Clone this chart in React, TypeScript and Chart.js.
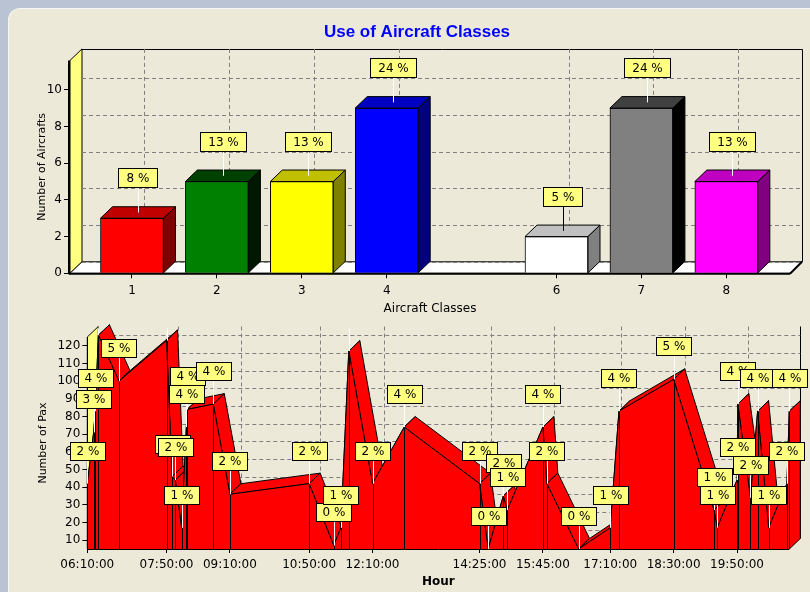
import React, { useEffect, useRef } from 'react';
import { Chart, registerables } from 'chart.js';

Chart.register(...registerables);

const FONT = '"DejaVu Sans", Verdana, sans-serif';

// ---------- Top chart: Use of Aircraft Classes ----------
const CLASS_IDS = [1, 2, 3, 4, 6, 7, 8];
const CLASS_COUNTS = [3, 5, 5, 9, 2, 9, 5];
const COUNT_TICKS = [0, 2, 4, 6, 8, 10];
const FRONT_COLORS = ['#ff0000', '#008000', '#ffff00', '#0000ff', '#ffffff', '#808080', '#ff00ff'];
const TOP_COLORS = ['#c00000', '#004000', '#c0c000', '#0000c0', '#c0c0c0', '#404040', '#c000c0'];
const SIDE_COLORS = ['#800000', '#001800', '#808000', '#000080', '#808080', '#000000', '#800080'];
const ARROW_COLORS = ['#ffffff', '#ffffff', '#ffffff', '#ffffff', '#000000', '#ffffff', '#ffffff'];

// ---------- Bottom chart: Number of Pax per Hour ----------
const HOURS = ['06:10', '06:18', '06:20', '06:24', '06:50', '07:50', '07:57', '08:01', '08:09', '08:15',
  '08:16', '08:49', '09:10', '10:50', '11:21', '11:30', '11:40', '12:10', '12:50', '14:25',
  '14:36', '14:55', '15:00', '15:45', '15:50', '16:30', '17:10', '17:21', '18:30', '19:21',
  '19:25', '19:50', '19:51', '20:07', '20:16', '20:30', '20:53', '20:56'];
const PAX = [42, 71, 83, 126, 100, 123, 46, 44, 17, 74,
  84, 87, 36, 42, 7, 17, 117, 42, 74, 42,
  5, 35, 27, 74, 42, 5, 17, 83, 101, 27,
  17, 44, 87, 34, 83, 17, 42, 83];
const PAX_PCT = [2, 3, 4, 6, 5, 6, 2, 2, 1, 4,
  4, 4, 2, 2, 0, 1, 6, 2, 4, 2,
  0, 2, 1, 4, 2, 0, 1, 4, 5, 1,
  1, 2, 4, 2, 4, 1, 2, 4];
const HOUR_TICKS = ['06:10', '07:50', '09:10', '10:50', '12:10', '14:25', '15:45', '17:10', '18:30', '19:50'];
const PAX_TICKS = [10, 20, 30, 40, 50, 60, 70, 80, 90, 100, 110, 120];

const toMin = (h: string) => {
  const [hh, mm] = h.split(':').map(Number);
  return hh * 60 + mm;
};
const fmtMin = (m: number) =>
  `${String(Math.floor(m / 60)).padStart(2, '0')}:${String(Math.round(m % 60)).padStart(2, '0')}:00`;

function poly(ctx: CanvasRenderingContext2D, pts: number[][]) {
  ctx.beginPath();
  ctx.moveTo(pts[0][0], pts[0][1]);
  for (let i = 1; i < pts.length; i++) ctx.lineTo(pts[i][0], pts[i][1]);
  ctx.closePath();
}
function seg(ctx: CanvasRenderingContext2D, x1: number, y1: number, x2: number, y2: number) {
  ctx.beginPath();
  ctx.moveTo(x1, y1);
  ctx.lineTo(x2, y2);
  ctx.stroke();
}
const px = (v: number) => Math.round(v) + 0.5;

function tagBox(ctx: CanvasRenderingContext2D, text: string, cx: number, bottom: number, padX: number, h: number) {
  ctx.font = `12px ${FONT}`;
  const w = Math.round(ctx.measureText(text).width + padX * 2);
  const x0 = Math.round(cx - w / 2) + 0.5;
  const y0 = Math.round(bottom - h) + 0.5;
  ctx.fillStyle = '#ffff80';
  ctx.fillRect(x0, y0, w, h);
  ctx.strokeStyle = '#000';
  ctx.lineWidth = 1;
  ctx.strokeRect(x0, y0, w, h);
  ctx.fillStyle = '#000';
  ctx.textAlign = 'center';
  ctx.textBaseline = 'middle';
  ctx.fillText(text, x0 + w / 2, y0 + h / 2 + 0.5);
}

const TOP_DX = 12;
const TOP_DY = -11.5;

const barsPlugin = {
  id: 'bars3d',
  beforeDatasetsDraw(chart: any) {
    const { ctx, chartArea: a, scales } = chart;
    const xs = scales.x, ys = scales.y;
    const dx = TOP_DX, dy = TOP_DY;
    ctx.save();
    ctx.lineWidth = 1;
    ctx.strokeStyle = '#000';
    poly(ctx, [[a.left, a.bottom], [a.left, a.top], [a.left + dx, a.top + dy], [a.left + dx, a.bottom + dy]]);
    ctx.fillStyle = '#ffff80';
    ctx.fill();
    ctx.stroke();
    poly(ctx, [[a.left, a.bottom], [a.right, a.bottom], [a.right + dx, a.bottom + dy], [a.left + dx, a.bottom + dy]]);
    ctx.fillStyle = '#ffffff';
    ctx.fill();
    ctx.stroke();
    ctx.beginPath();
    ctx.moveTo(a.left + dx, px(a.top + dy));
    ctx.lineTo(px(a.right + dx), px(a.top + dy));
    ctx.lineTo(px(a.right + dx), a.bottom + dy);
    ctx.stroke();
    ctx.setLineDash([4, 3]);
    ctx.strokeStyle = '#808080';
    COUNT_TICKS.forEach((v) => {
      const yy = px(ys.getPixelForValue(v) + dy);
      seg(ctx, a.left + dx, yy, a.right + dx, yy);
    });
    CLASS_IDS.forEach((v) => {
      const xx = px(xs.getPixelForValue(v) + dx);
      seg(ctx, xx, a.top + dy, xx, a.bottom + dy);
    });
    ctx.restore();
  },
  afterDatasetsDraw(chart: any) {
    const { ctx, chartArea: a } = chart;
    const dx = TOP_DX, dy = TOP_DY;
    const meta = chart.getDatasetMeta(0);
    const total = CLASS_COUNTS.reduce((s, v) => s + v, 0);
    ctx.save();
    ctx.lineWidth = 1;
    ctx.strokeStyle = '#000';
    const heads: { x: number; y: number }[] = [];
    meta.data.forEach((el: any, i: number) => {
      const { x, y, base, width } = el.getProps(['x', 'y', 'base', 'width'], true);
      const l = x - width / 2, r = x + width / 2;
      poly(ctx, [[l, y], [r, y], [r + dx, y + dy], [l + dx, y + dy]]);
      ctx.fillStyle = TOP_COLORS[i];
      ctx.fill();
      ctx.stroke();
      poly(ctx, [[r, y], [r + dx, y + dy], [r + dx, base + dy], [r, base]]);
      ctx.fillStyle = SIDE_COLORS[i];
      ctx.fill();
      ctx.stroke();
      heads.push({ x: x + dx / 2, y: y + dy / 2 });
    });
    ctx.lineWidth = 2;
    ctx.strokeStyle = '#000';
    seg(ctx, a.left - 1, a.top, a.left - 1, a.bottom + 1);
    seg(ctx, a.left - 1, a.bottom + 0.5, a.right, a.bottom + 0.5);
    seg(ctx, a.right, a.bottom + 0.5, a.right + dx, a.bottom + dy);
    ctx.lineWidth = 1;
    heads.forEach((h, i) => {
      ctx.strokeStyle = ARROW_COLORS[i];
      seg(ctx, px(h.x), h.y - 25, px(h.x), h.y);
    });
    heads.forEach((h, i) => {
      const pct = Math.round((CLASS_COUNTS[i] / total) * 100);
      tagBox(ctx, `${pct} %`, h.x, h.y - 25, 8, 19);
    });
    ctx.restore();
  },
};

const BOT_DX = 11;
const BOT_DY = -10.5;

const areaPlugin = {
  id: 'area3d',
  beforeDatasetsDraw(chart: any) {
    const { ctx, chartArea: a, scales } = chart;
    const xs = scales.x, ys = scales.y;
    const dx = BOT_DX, dy = BOT_DY;
    ctx.save();
    ctx.lineWidth = 1;
    ctx.strokeStyle = '#000';
    poly(ctx, [[a.left, a.bottom], [a.left, a.top], [a.left + dx, a.top + dy], [a.left + dx, a.bottom + dy]]);
    ctx.fillStyle = '#ffff80';
    ctx.fill();
    ctx.stroke();
    seg(ctx, px(a.right + dx), a.top + dy, px(a.right + dx), a.bottom + dy);
    ctx.setLineDash([4, 3]);
    ctx.strokeStyle = '#808080';
    PAX_TICKS.forEach((v) => {
      const yy = px(ys.getPixelForValue(v) + dy);
      seg(ctx, a.left + dx, yy, a.right + dx, yy);
    });
    HOUR_TICKS.forEach((h) => {
      const xx = px(xs.getPixelForValue(toMin(h)) + dx);
      seg(ctx, xx, a.top + dy, xx, a.bottom + dy);
    });
    ctx.setLineDash([]);
    const pts = chart.getDatasetMeta(0).data.map((p: any) => ({ x: p.x, y: p.y }));
    ctx.strokeStyle = '#000';
    ctx.fillStyle = '#ff0000';
    for (let i = 0; i < pts.length - 1; i++) {
      const p0 = pts[i], p1 = pts[i + 1];
      poly(ctx, [[p0.x, p0.y], [p1.x, p1.y], [p1.x + dx, p1.y + dy], [p0.x + dx, p0.y + dy]]);
      ctx.fill();
      ctx.stroke();
    }
    const pl = pts[pts.length - 1];
    poly(ctx, [[pl.x, pl.y], [pl.x + dx, pl.y + dy], [pl.x + dx, a.bottom + dy], [pl.x, a.bottom]]);
    ctx.fill();
    ctx.stroke();
    ctx.restore();
  },
  afterDatasetsDraw(chart: any) {
    const { ctx, chartArea: a } = chart;
    const dy = BOT_DY;
    const pts = chart.getDatasetMeta(0).data.map((p: any) => ({ x: p.x, y: p.y }));
    ctx.save();
    ctx.lineWidth = 1;
    ctx.strokeStyle = '#000';
    pts.forEach((p: any) => seg(ctx, px(p.x), p.y, px(p.x), a.bottom));
    seg(ctx, px(a.left), a.top, px(a.left), a.bottom + 1);
    seg(ctx, a.left, px(a.bottom), a.right, px(a.bottom));
    ctx.beginPath();
    ctx.rect(0, a.top + dy + 2, chart.width, chart.height);
    ctx.clip();
    ctx.strokeStyle = '#ffffff';
    pts.forEach((p: any) => seg(ctx, px(p.x), p.y - 24, px(p.x), p.y));
    pts.forEach((p: any, i: number) => tagBox(ctx, `${PAX_PCT[i]} %`, p.x, p.y - 24, 6, 18));
    ctx.restore();
  },
};

function topConfig(): any {
  return {
    type: 'bar',
    data: {
      datasets: [{
        data: CLASS_IDS.map((c, i) => ({ x: c, y: CLASS_COUNTS[i] })),
        backgroundColor: FRONT_COLORS,
        borderColor: '#000',
        borderWidth: 1,
        barThickness: 63,
      }],
    },
    options: {
      animation: false,
      responsive: false,
      events: [],
      layout: { padding: { left: 44, right: 20, top: 0, bottom: 0 } },
      plugins: {
        legend: { display: false },
        tooltip: { enabled: false },
        title: {
          display: true,
          text: 'Use of Aircraft Classes',
          color: '#0000ff',
          font: { family: '"Liberation Sans", Arial, sans-serif', size: 17, weight: 'bold' },
          padding: { top: 22, bottom: 18 },
        },
      },
      scales: {
        x: {
          type: 'linear',
          min: 0.27,
          max: 8.75,
          offset: false,
          afterBuildTicks: (s: any) => { s.ticks = CLASS_IDS.map((v) => ({ value: v })); },
          afterFit: (s: any) => { s.height = 46.7; },
          grid: { display: true, offset: false, drawOnChartArea: false, drawTicks: true, tickLength: 5, color: '#000' },
          border: { display: false },
          ticks: { autoSkip: false, maxRotation: 0, padding: 5, color: '#000', font: { family: FONT, size: 12 }, callback: (v: any) => String(v) },
          title: { display: true, text: 'Aircraft Classes', color: '#000', font: { family: FONT, size: 12 }, padding: { top: 0, bottom: 4 } },
        },
        y: {
          min: 0,
          max: 11.6,
          afterBuildTicks: (s: any) => { s.ticks = COUNT_TICKS.map((v) => ({ value: v })); },
          afterFit: (s: any) => { s.width = 26; },
          grid: { display: true, drawOnChartArea: false, drawTicks: true, tickLength: 6, color: '#000' },
          border: { display: false },
          ticks: { autoSkip: false, padding: 2, color: '#000', font: { family: FONT, size: 12 } },
          title: { display: true, text: 'Number of Aircrafts', color: '#000', font: { family: FONT, size: 11 }, padding: { top: -8.6, bottom: 0 } },
        },
      },
    },
    plugins: [barsPlugin],
  };
}

function bottomConfig(): any {
  return {
    type: 'line',
    data: {
      datasets: [{
        data: HOURS.map((h, i) => ({ x: toMin(h), y: PAX[i] })),
        borderColor: '#000',
        borderWidth: 1,
        backgroundColor: '#ff0000',
        fill: 'start',
        pointRadius: 0,
        tension: 0,
        clip: false,
      }],
    },
    options: {
      animation: false,
      responsive: false,
      events: [],
      layout: { padding: { left: 30, right: 20.7, top: 17, bottom: 0 } },
      plugins: { legend: { display: false }, tooltip: { enabled: false } },
      scales: {
        x: {
          type: 'linear',
          min: toMin(HOURS[0]),
          max: toMin(HOURS[HOURS.length - 1]),
          afterBuildTicks: (s: any) => { s.ticks = HOUR_TICKS.map((h) => ({ value: toMin(h) })); },
          afterFit: (s: any) => { s.height = 43; },
          grid: { display: true, drawOnChartArea: false, drawTicks: true, tickLength: 4, color: '#000' },
          border: { display: false },
          ticks: { autoSkip: false, maxRotation: 0, padding: 5, color: '#000', font: { family: FONT, size: 12 }, callback: (v: any) => fmtMin(Number(v)) },
          title: { display: true, text: 'Hour', color: '#000', font: { family: FONT, size: 12, weight: 'bold' }, padding: { top: 0, bottom: 3 } },
        },
        y: {
          min: 5,
          max: 125,
          afterBuildTicks: (s: any) => { s.ticks = PAX_TICKS.map((v) => ({ value: v })); },
          afterFit: (s: any) => { s.width = 57.3; },
          grid: { display: true, drawOnChartArea: false, drawTicks: true, tickLength: 5, color: '#000' },
          border: { display: false },
          ticks: { autoSkip: false, padding: 2, color: '#000', font: { family: FONT, size: 12 } },
          title: { display: true, text: 'Number of Pax', color: '#000', font: { family: FONT, size: 11 }, padding: { top: 6.7, bottom: 0 } },
        },
      },
    },
    plugins: [areaPlugin],
  };
}

export default function App() {
  const topRef = useRef<HTMLCanvasElement>(null);
  const botRef = useRef<HTMLCanvasElement>(null);
  useEffect(() => {
    const c1 = new Chart(topRef.current as HTMLCanvasElement, topConfig());
    const c2 = new Chart(botRef.current as HTMLCanvasElement, bottomConfig());
    return () => {
      c1.destroy();
      c2.destroy();
    };
  }, []);
  return (
    <div style={{ position: 'fixed', left: 0, top: 0, width: 810, height: 592, background: '#b9c3d4', overflow: 'hidden' }}>
      <div
        style={{
          position: 'absolute', left: 8, top: 8, right: -2, bottom: -2,
          background: '#ece9d8', borderTopLeftRadius: 12,
          borderTop: '1px solid #f6f6f6', borderLeft: '1px solid #f6f6f6',
        }}
      />
      <canvas ref={topRef} width={810} height={320} style={{ position: 'absolute', left: 0, top: 0 }} />
      <canvas ref={botRef} width={810} height={272} style={{ position: 'absolute', left: 0, top: 320 }} />
    </div>
  );
}
